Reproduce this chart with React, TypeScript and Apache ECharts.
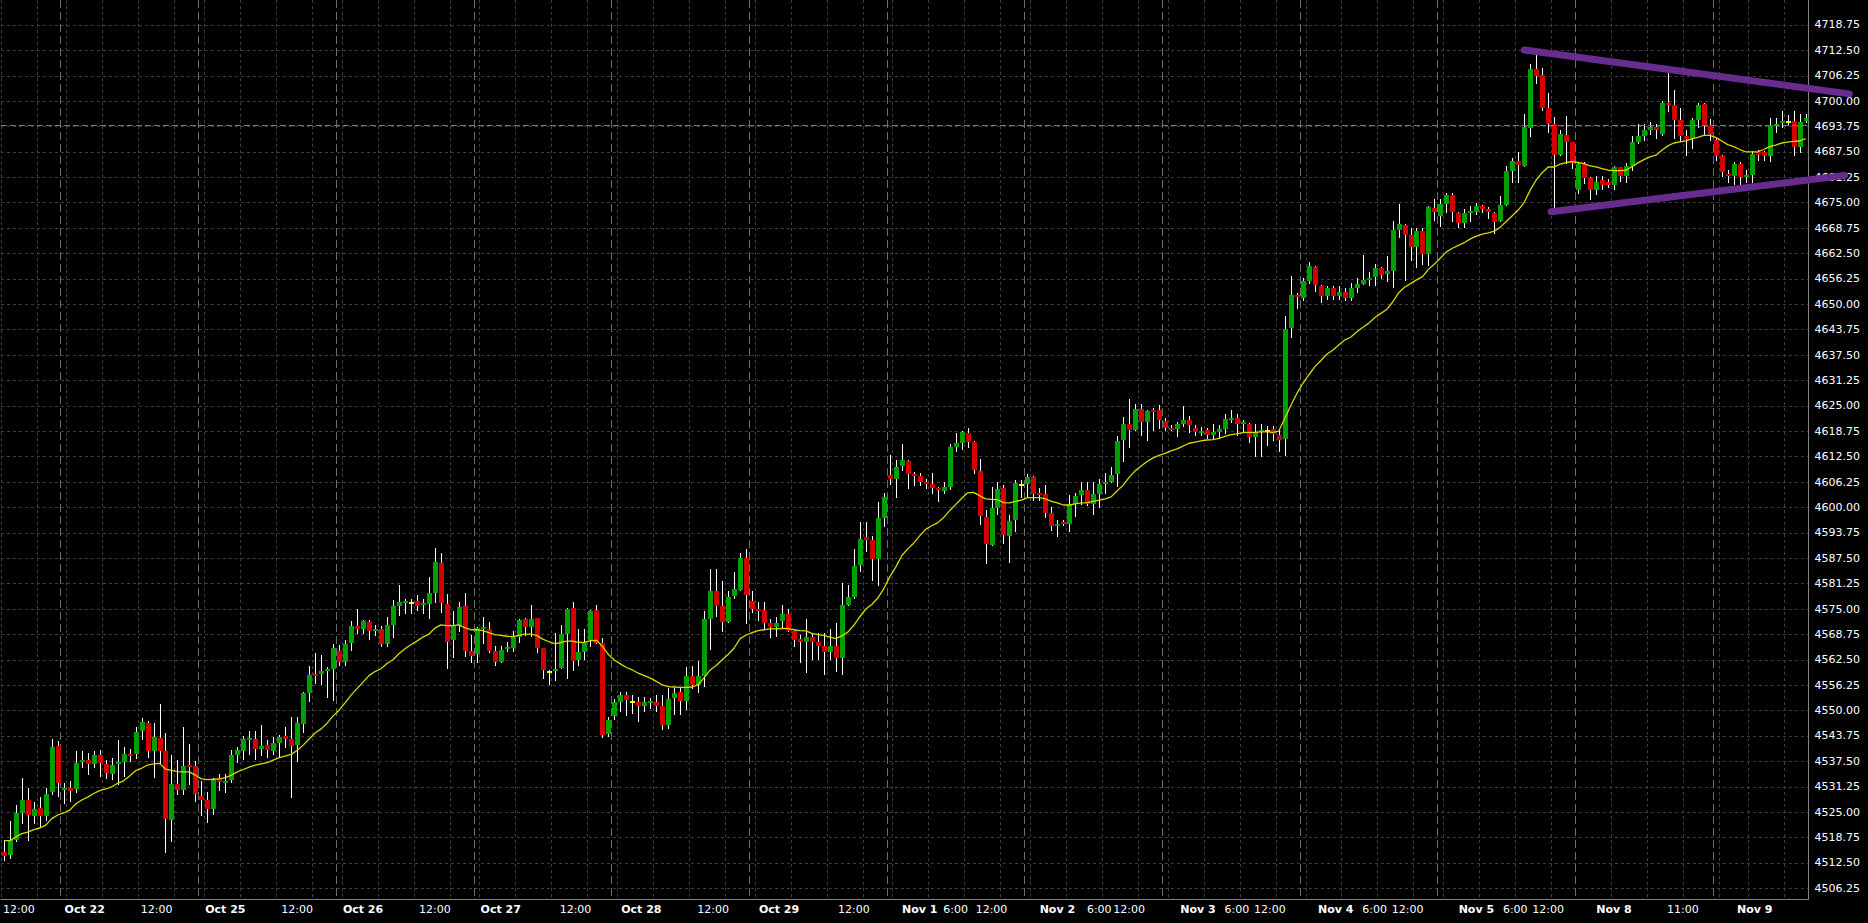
import React, { useEffect, useRef } from 'react';
import * as echarts from 'echarts';

// ---------- DATA (hourly bars) ----------
const opens = [
  4515.25, 4514.5, 4518.25, 4524.75, 4528.0, 4524.0, 4526.0, 4524.0, 4530.0, 4541.25,
  4530.5, 4531.0, 4530.75, 4537.25, 4537.75, 4536.75, 4539.0, 4536.75, 4534.5, 4536.75,
  4537.25, 4539.25, 4539.25, 4545.0, 4547.0, 4540.0, 4543.25, 4540.0, 4523.0, 4532.0,
  4530.5, 4536.5, 4536.25, 4529.0, 4528.0, 4525.75, 4533.5, 4532.5, 4533.0, 4539.0,
  4540.0, 4542.75, 4543.0, 4540.5, 4541.5, 4540.0, 4542.0, 4543.75, 4543.0, 4541.5,
  4546.75, 4554.25, 4559.0, 4559.0, 4559.75, 4560.25, 4564.75, 4562.0, 4566.75, 4570.75,
  4570.0, 4571.75, 4569.5, 4570.0, 4566.5, 4571.0, 4575.75, 4576.5, 4576.75, 4577.0,
  4576.0, 4576.25, 4579.0, 4586.25, 4576.25, 4567.25, 4571.0, 4575.75, 4564.75, 4564.0,
  4570.25, 4570.0, 4564.75, 4562.0, 4565.25, 4565.5, 4568.0, 4572.5, 4570.5, 4572.75,
  4565.5, 4559.75, 4559.75, 4560.5, 4568.75, 4575.25, 4562.5, 4564.5, 4567.25, 4574.75,
  4566.75, 4544.25, 4548.75, 4552.0, 4553.75, 4552.25, 4552.0, 4551.25, 4551.75, 4552.0,
  4551.25, 4546.5, 4553.0, 4554.5, 4552.25, 4558.5, 4556.25, 4558.5, 4572.5, 4579.5,
  4575.75, 4571.75, 4578.25, 4579.75, 4587.5, 4577.0, 4575.0, 4574.75, 4571.5, 4570.5,
  4572.0, 4573.75, 4569.5, 4567.5, 4567.0, 4568.0, 4567.0, 4566.0, 4564.5, 4566.0,
  4563.0, 4576.0, 4578.0, 4585.75, 4592.75, 4592.0, 4587.25, 4597.5, 4608.0, 4607.0,
  4610.25, 4611.5, 4608.25, 4607.75, 4606.25, 4605.75, 4604.75, 4604.0, 4605.0, 4615.0,
  4615.75, 4618.25, 4616.0, 4609.0, 4597.75, 4590.75, 4599.75, 4604.75, 4593.0, 4597.0,
  4605.75, 4605.75, 4607.5, 4603.5, 4603.25, 4598.75, 4595.5, 4596.5, 4596.0, 4600.75,
  4603.0, 4604.25, 4600.75, 4603.25, 4605.75, 4606.25, 4608.25, 4616.5, 4620.5, 4619.0,
  4624.25, 4621.0, 4624.0, 4624.0, 4621.25, 4619.5, 4619.25, 4620.5, 4621.5, 4619.5,
  4618.25, 4619.0, 4617.75, 4618.5, 4619.25, 4621.5, 4622.0, 4620.75, 4620.5, 4617.25,
  4618.5, 4619.0, 4619.25, 4617.75, 4616.75, 4644.25, 4652.25, 4651.5, 4655.75, 4659.25,
  4654.5, 4652.0, 4654.0, 4652.0, 4653.0, 4651.5, 4654.0, 4655.0, 4656.0, 4656.75,
  4659.0, 4657.5, 4658.25, 4668.25, 4669.5, 4667.0, 4664.0, 4668.0, 4662.5, 4673.75,
  4671.75, 4674.75, 4677.0, 4672.5, 4670.0, 4672.5, 4672.75, 4674.25, 4673.5, 4672.5,
  4670.5, 4674.5, 4682.75, 4685.25, 4684.0, 4693.5, 4708.0, 4706.5, 4698.25, 4694.5,
  4686.75, 4691.75, 4690.0, 4678.25, 4684.5, 4681.0, 4678.25, 4680.5, 4680.0, 4679.25,
  4683.75, 4681.5, 4684.0, 4690.0, 4691.5, 4693.0, 4693.75, 4692.0, 4699.5, 4699.0,
  4695.25, 4691.5, 4690.75, 4695.25, 4699.25, 4694.25, 4690.5, 4686.5, 4682.0, 4681.5,
  4684.5, 4681.25, 4681.75, 4687.5, 4687.5, 4686.5, 4694.0, 4694.75, 4695.0, 4695.0,
  4688.75, 4695.0,
];
const highs = [
  4518.25, 4522.75, 4526.75, 4533.5, 4531.0, 4527.5, 4528.75, 4531.0, 4543.0, 4542.5,
  4532.25, 4532.75, 4540.0, 4540.0, 4539.5, 4540.0, 4540.25, 4537.75, 4538.25, 4542.75,
  4541.0, 4540.5, 4546.0, 4548.25, 4547.5, 4547.0, 4551.5, 4544.5, 4539.0, 4537.75,
  4546.0, 4541.75, 4537.5, 4532.75, 4530.0, 4533.5, 4534.5, 4534.5, 4540.25, 4541.0,
  4543.75, 4545.0, 4545.0, 4546.5, 4542.75, 4543.5, 4544.0, 4546.0, 4548.5, 4548.5,
  4554.5, 4561.0, 4564.25, 4563.75, 4560.75, 4566.5, 4566.25, 4567.25, 4572.0, 4575.0,
  4572.25, 4572.25, 4571.0, 4570.75, 4573.0, 4577.25, 4581.0, 4577.5, 4577.5, 4578.5,
  4577.5, 4583.0, 4590.0, 4588.75, 4578.75, 4574.5, 4576.75, 4579.0, 4568.5, 4570.5,
  4573.0, 4571.75, 4566.0, 4566.0, 4567.0, 4569.5, 4572.5, 4572.75, 4576.0, 4572.75,
  4565.5, 4560.0, 4569.0, 4571.0, 4575.25, 4576.75, 4570.0, 4570.0, 4574.75, 4576.0,
  4567.75, 4548.5, 4552.75, 4554.5, 4554.5, 4553.75, 4553.25, 4553.25, 4553.0, 4553.75,
  4553.75, 4555.5, 4555.5, 4555.5, 4560.75, 4561.0, 4562.25, 4574.5, 4584.75, 4584.75,
  4582.0, 4579.5, 4584.0, 4588.75, 4589.75, 4579.5, 4576.75, 4576.75, 4572.5, 4573.0,
  4576.0, 4575.0, 4569.75, 4568.5, 4572.5, 4569.0, 4569.0, 4569.0, 4570.0, 4571.5,
  4581.5, 4581.0, 4589.75, 4596.5, 4596.5, 4593.0, 4601.25, 4603.5, 4613.0, 4611.75,
  4615.5, 4611.75, 4608.75, 4608.5, 4607.0, 4608.5, 4605.0, 4606.25, 4615.5, 4618.25,
  4618.75, 4619.5, 4616.25, 4612.0, 4599.25, 4605.0, 4606.25, 4605.5, 4598.25, 4606.75,
  4606.75, 4608.25, 4607.75, 4604.75, 4605.5, 4600.0, 4597.0, 4597.0, 4603.0, 4603.5,
  4606.25, 4606.25, 4606.25, 4607.0, 4608.5, 4610.0, 4617.5, 4622.25, 4626.75, 4625.5,
  4625.5, 4624.0, 4624.5, 4625.25, 4622.0, 4620.25, 4621.0, 4625.0, 4622.5, 4620.25,
  4619.75, 4619.5, 4620.5, 4620.25, 4623.0, 4624.0, 4623.0, 4621.5, 4620.75, 4620.5,
  4620.5, 4620.0, 4620.0, 4619.0, 4647.0, 4657.0, 4652.75, 4656.5, 4660.5, 4659.5,
  4654.75, 4654.5, 4654.5, 4654.5, 4654.0, 4655.25, 4656.5, 4662.25, 4658.0, 4660.0,
  4659.25, 4662.0, 4670.5, 4674.75, 4669.75, 4668.75, 4668.75, 4668.75, 4674.25, 4676.0,
  4676.0, 4677.5, 4677.5, 4672.75, 4673.5, 4674.25, 4675.0, 4674.5, 4674.0, 4672.75,
  4676.75, 4684.0, 4686.0, 4687.5, 4696.75, 4709.25, 4711.75, 4708.25, 4702.0, 4696.0,
  4693.0, 4696.25, 4690.0, 4685.0, 4685.0, 4681.25, 4681.5, 4681.5, 4680.75, 4684.0,
  4683.75, 4684.75, 4691.5, 4694.5, 4694.5, 4694.75, 4694.5, 4700.0, 4707.0, 4702.75,
  4698.25, 4693.0, 4695.75, 4699.5, 4699.5, 4695.5, 4691.0, 4686.75, 4683.0, 4685.0,
  4685.0, 4683.0, 4687.75, 4688.0, 4687.75, 4695.75, 4695.75, 4697.5, 4696.5, 4697.5,
  4696.75, 4696.75,
];
const lows = [
  4513.25, 4513.75, 4518.0, 4522.25, 4518.25, 4522.25, 4521.5, 4523.0, 4529.5, 4529.0,
  4527.25, 4527.75, 4530.0, 4536.0, 4534.5, 4536.0, 4534.0, 4533.5, 4533.25, 4532.0,
  4534.0, 4537.5, 4538.25, 4543.0, 4538.5, 4533.75, 4537.0, 4515.25, 4518.0, 4529.5,
  4529.5, 4532.0, 4527.75, 4524.25, 4522.5, 4524.5, 4530.5, 4530.0, 4532.5, 4537.25,
  4538.0, 4539.25, 4538.0, 4539.0, 4538.5, 4539.25, 4538.5, 4541.0, 4528.75, 4537.5,
  4544.75, 4552.25, 4556.75, 4556.5, 4553.25, 4552.5, 4561.25, 4561.25, 4565.0, 4569.0,
  4569.0, 4567.5, 4568.5, 4566.0, 4566.0, 4568.0, 4573.5, 4574.0, 4574.0, 4574.75,
  4574.0, 4572.75, 4576.75, 4574.25, 4560.5, 4563.25, 4569.5, 4563.5, 4562.0, 4562.0,
  4566.75, 4564.5, 4561.25, 4562.0, 4564.75, 4564.75, 4567.0, 4568.5, 4568.25, 4564.5,
  4558.0, 4556.5, 4557.5, 4560.5, 4558.0, 4560.0, 4561.25, 4562.75, 4566.0, 4566.75,
  4543.5, 4543.75, 4548.0, 4550.0, 4549.0, 4549.5, 4547.5, 4550.0, 4550.75, 4550.0,
  4545.5, 4545.75, 4549.25, 4549.25, 4550.5, 4555.5, 4554.5, 4556.0, 4565.25, 4573.25,
  4569.5, 4571.75, 4577.75, 4579.75, 4571.5, 4574.25, 4572.25, 4570.0, 4568.0, 4568.25,
  4570.5, 4569.5, 4566.0, 4562.0, 4559.5, 4562.75, 4562.75, 4559.0, 4562.75, 4559.75,
  4559.0, 4576.0, 4577.75, 4584.25, 4589.25, 4582.25, 4581.0, 4595.5, 4605.75, 4602.5,
  4609.25, 4604.75, 4605.5, 4605.5, 4604.75, 4603.5, 4601.5, 4603.5, 4604.5, 4614.0,
  4614.5, 4615.0, 4608.5, 4596.0, 4586.25, 4590.75, 4598.5, 4591.25, 4586.5, 4594.25,
  4602.5, 4602.5, 4601.75, 4601.75, 4597.75, 4594.5, 4593.0, 4595.75, 4594.25, 4598.0,
  4600.75, 4600.5, 4598.5, 4600.0, 4603.5, 4606.25, 4605.25, 4611.5, 4615.0, 4619.0,
  4617.75, 4616.5, 4619.0, 4619.5, 4619.0, 4619.0, 4617.5, 4620.0, 4618.5, 4617.75,
  4617.75, 4617.0, 4617.0, 4617.0, 4618.25, 4621.0, 4617.75, 4618.5, 4616.0, 4612.75,
  4612.75, 4615.25, 4616.5, 4614.0, 4613.0, 4642.0, 4649.0, 4651.0, 4655.25, 4653.25,
  4650.5, 4651.25, 4651.25, 4651.25, 4651.0, 4651.0, 4653.0, 4655.0, 4654.75, 4654.75,
  4656.5, 4655.75, 4654.25, 4666.5, 4656.0, 4661.0, 4659.25, 4660.0, 4659.75, 4670.75,
  4669.25, 4672.75, 4670.5, 4669.0, 4669.0, 4670.5, 4672.25, 4672.75, 4671.25, 4667.5,
  4670.5, 4674.5, 4680.0, 4680.0, 4684.0, 4691.5, 4704.5, 4697.75, 4692.5, 4674.0,
  4686.75, 4684.75, 4683.5, 4677.5, 4679.75, 4676.0, 4677.25, 4678.5, 4678.75, 4678.5,
  4680.25, 4680.0, 4683.0, 4689.75, 4690.5, 4692.0, 4691.0, 4691.75, 4697.5, 4691.0,
  4690.5, 4686.75, 4688.5, 4693.75, 4692.0, 4690.5, 4685.5, 4681.5, 4680.0, 4679.5,
  4679.5, 4680.0, 4680.0, 4685.5, 4685.5, 4685.25, 4692.5, 4693.75, 4694.25, 4686.75,
  4687.5, 4694.75,
];
const closes = [
  4514.25, 4518.25, 4524.75, 4528.0, 4524.25, 4525.75, 4524.0, 4529.5, 4541.0, 4532.25,
  4531.0, 4530.25, 4537.0, 4537.75, 4536.75, 4539.0, 4537.0, 4534.75, 4536.5, 4537.25,
  4539.25, 4538.75, 4544.75, 4547.25, 4540.0, 4543.5, 4540.0, 4523.25, 4532.0, 4530.5,
  4536.25, 4536.0, 4529.5, 4528.0, 4525.75, 4533.25, 4532.5, 4532.75, 4539.0, 4540.25,
  4543.0, 4543.25, 4540.5, 4541.25, 4540.25, 4542.0, 4543.5, 4543.0, 4541.25, 4547.0,
  4554.25, 4558.75, 4558.5, 4559.75, 4560.25, 4565.5, 4562.0, 4566.5, 4570.75, 4570.0,
  4572.0, 4569.5, 4570.0, 4566.5, 4571.0, 4575.75, 4576.75, 4577.0, 4576.75, 4575.75,
  4576.5, 4579.0, 4586.5, 4576.5, 4567.0, 4571.0, 4575.5, 4564.75, 4563.5, 4570.25,
  4570.5, 4564.75, 4562.0, 4565.0, 4565.75, 4568.0, 4572.25, 4570.5, 4572.5, 4565.5,
  4560.0, 4559.75, 4560.25, 4568.75, 4575.0, 4562.25, 4564.5, 4566.75, 4574.5, 4566.75,
  4544.0, 4547.75, 4552.0, 4553.75, 4552.5, 4552.25, 4551.25, 4552.0, 4552.25, 4551.25,
  4546.5, 4552.75, 4554.25, 4552.25, 4558.5, 4556.25, 4558.5, 4572.5, 4579.5, 4575.75,
  4571.75, 4578.0, 4580.0, 4587.5, 4578.5, 4575.0, 4574.75, 4571.5, 4570.5, 4571.5,
  4573.75, 4569.5, 4567.25, 4567.0, 4568.0, 4567.0, 4566.0, 4564.5, 4566.0, 4563.0,
  4576.0, 4578.0, 4585.5, 4592.25, 4592.0, 4587.25, 4597.5, 4602.5, 4607.0, 4610.0,
  4611.75, 4608.25, 4607.75, 4606.25, 4605.75, 4604.75, 4604.25, 4605.0, 4615.0, 4615.75,
  4618.5, 4616.0, 4609.25, 4598.0, 4591.0, 4599.75, 4604.5, 4593.25, 4596.75, 4606.0,
  4605.75, 4607.5, 4603.25, 4603.0, 4598.75, 4595.5, 4596.0, 4596.0, 4600.75, 4602.75,
  4604.25, 4600.75, 4603.25, 4605.75, 4606.25, 4608.0, 4616.25, 4620.5, 4619.0, 4624.25,
  4621.0, 4623.75, 4623.5, 4621.5, 4619.5, 4619.0, 4620.5, 4621.5, 4620.25, 4618.5,
  4618.75, 4617.75, 4618.5, 4619.25, 4621.75, 4622.0, 4620.5, 4621.0, 4617.25, 4618.5,
  4619.0, 4619.0, 4618.0, 4616.5, 4644.0, 4652.25, 4651.75, 4655.75, 4659.5, 4654.75,
  4652.0, 4654.0, 4652.0, 4653.0, 4651.5, 4654.0, 4655.0, 4656.0, 4656.5, 4659.0,
  4657.25, 4658.25, 4668.25, 4669.75, 4667.0, 4664.0, 4668.0, 4662.5, 4674.0, 4672.75,
  4674.75, 4677.0, 4672.75, 4670.0, 4672.5, 4673.0, 4674.25, 4673.5, 4672.75, 4670.25,
  4674.5, 4682.75, 4685.25, 4684.25, 4693.75, 4708.0, 4706.25, 4698.25, 4694.5, 4686.75,
  4692.0, 4690.0, 4684.75, 4684.5, 4681.0, 4678.25, 4680.0, 4679.25, 4679.25, 4683.75,
  4681.5, 4684.0, 4690.0, 4691.5, 4693.0, 4693.75, 4693.0, 4699.5, 4699.0, 4695.25,
  4691.5, 4690.75, 4695.25, 4699.0, 4694.25, 4692.0, 4686.5, 4682.5, 4681.5, 4684.5,
  4681.25, 4681.75, 4687.0, 4686.75, 4686.5, 4694.25, 4694.5, 4695.0, 4695.0, 4688.75,
  4694.75, 4695.75,
];
// yellow moving-average line, read bar by bar
const maValues = [
  4518.0, 4518.0, 4518.9, 4519.7, 4520.1, 4520.7, 4521.1, 4521.8, 4523.4, 4524.3,
  4524.8, 4525.5, 4527.0, 4528.0, 4528.7, 4529.6, 4530.3, 4530.7, 4531.2, 4532.1,
  4532.7, 4533.9, 4535.2, 4535.8, 4536.6, 4536.9, 4537.0, 4535.6, 4535.3, 4535.0,
  4534.9, 4534.9, 4534.1, 4533.2, 4533.0, 4533.1, 4533.2, 4533.5, 4534.1, 4534.9,
  4535.5, 4536.1, 4536.6, 4536.9, 4537.2, 4537.8, 4538.4, 4538.8, 4539.2, 4540.2,
  4541.5, 4543.0, 4544.5, 4545.5, 4546.9, 4548.7, 4550.1, 4551.9, 4553.8, 4555.4,
  4557.0, 4558.6, 4559.6, 4560.3, 4561.6, 4562.5, 4564.0, 4565.2, 4566.2, 4567.1,
  4568.1, 4568.8, 4570.3, 4571.1, 4570.9, 4570.9, 4571.1, 4570.4, 4569.9, 4569.9,
  4569.7, 4569.2, 4568.7, 4568.5, 4568.3, 4568.2, 4568.5, 4568.8, 4568.8, 4568.5,
  4567.6, 4567.0, 4566.5, 4566.7, 4567.1, 4567.1, 4566.8, 4566.8, 4567.2, 4567.3,
  4565.8, 4563.8, 4562.4, 4561.5, 4560.6, 4560.0, 4559.2, 4558.6, 4558.0, 4557.2,
  4556.3, 4555.9, 4555.8, 4555.7, 4555.7, 4555.8, 4556.4, 4558.1, 4560.0, 4561.1,
  4562.5, 4563.8, 4565.4, 4567.7, 4568.6, 4569.2, 4569.7, 4569.9, 4570.1, 4570.1,
  4570.2, 4570.2, 4569.9, 4569.7, 4569.6, 4569.0, 4568.7, 4568.5, 4568.1, 4567.7,
  4568.4, 4569.3, 4571.0, 4573.1, 4575.0, 4576.1, 4577.7, 4580.0, 4582.9, 4585.3,
  4588.1, 4589.8, 4591.2, 4593.0, 4594.6, 4595.5, 4596.2, 4597.5, 4599.2, 4600.7,
  4602.2, 4603.6, 4603.7, 4602.9, 4602.1, 4602.0, 4601.9, 4601.2, 4601.1, 4601.5,
  4601.8, 4602.4, 4602.4, 4602.4, 4602.1, 4601.5, 4601.1, 4600.6, 4600.6, 4600.9,
  4601.1, 4601.2, 4601.5, 4601.8, 4602.1, 4602.6, 4604.1, 4605.5, 4607.4, 4609.0,
  4610.2, 4611.3, 4612.2, 4612.8, 4613.3, 4613.9, 4614.4, 4615.1, 4615.8, 4616.1,
  4616.4, 4616.6, 4616.7, 4617.0, 4617.5, 4617.9, 4618.1, 4618.4, 4618.5, 4618.5,
  4618.6, 4618.6, 4618.5, 4618.8, 4621.9, 4625.1, 4628.0, 4630.5, 4632.6, 4634.6,
  4636.1, 4637.7, 4638.7, 4640.0, 4641.2, 4641.9, 4643.2, 4644.3, 4645.3, 4646.7,
  4647.7, 4648.7, 4650.5, 4652.8, 4654.2, 4655.1, 4656.0, 4656.8, 4658.6, 4659.9,
  4661.4, 4662.9, 4663.8, 4664.5, 4665.2, 4666.1, 4666.8, 4667.3, 4667.6, 4668.0,
  4669.0, 4670.4, 4671.8, 4673.2, 4675.1, 4678.1, 4680.6, 4682.4, 4683.8, 4683.8,
  4684.5, 4684.9, 4685.1, 4684.9, 4684.6, 4684.1, 4683.8, 4683.4, 4683.0, 4682.9,
  4682.9, 4683.0, 4683.9, 4684.8, 4685.6, 4686.3, 4686.7, 4687.9, 4689.0, 4689.7,
  4690.0, 4690.2, 4690.7, 4691.1, 4691.6, 4691.6, 4691.1, 4690.2, 4689.3, 4688.8,
  4688.1, 4687.5, 4687.5, 4687.5, 4688.1, 4688.8, 4689.2, 4689.7, 4689.9, 4690.1,
  4690.2, 4690.8,
];

// trading days and the index of their first bar
const dayNames = ['Oct 21', 'Oct 22', 'Oct 25', 'Oct 26', 'Oct 27', 'Oct 28', 'Oct 29', 'Nov 1', 'Nov 2', 'Nov 3', 'Nov 4', 'Nov 5', 'Nov 8', 'Nov 9'];
const dayStartBars = [0, 10, 33, 56, 79, 102, 125, 148, 171, 194, 217, 240, 263, 286];
// session separators (bar index where a new day begins)
const daySeparatorBars = [10, 33, 56, 79, 102, 125, 148, 171, 194, 217, 240, 263, 286];
// fainter vertical grid lines (bar index they precede)
const gridLineBars = [
  0, 6, 11, 17, 23, 29, 34, 40, 46, 52, 57, 63, 69, 75, 80, 86, 92, 98, 103, 109, 115, 121,
  126, 132, 138, 144, 149, 155, 161, 167, 172, 178, 184, 190, 195, 201, 207, 213,
  218, 224, 230, 236, 241, 247, 253, 259, 269, 275, 281, 287, 292, 298,
];
// x-axis tick labels: [position in bars, text]
const xTickLabels: [number, string][] = [
  [2.52, '12:00'], [13.51, 'Oct 22'], [25.74, '12:00'], [36.79, 'Oct 25'], [48.95, '12:00'],
  [60.0, 'Oct 26'], [72.2, '12:00'], [83.2, 'Oct 27'], [95.3, '12:00'], [106.6, 'Oct 28'],
  [118.5, '12:00'], [129.7, 'Oct 29'], [141.8, '12:00'], [152.9, 'Nov 1'], [159.0, '6:00'],
  [165.2, '12:00'], [176.0, 'Nov 2'], [183.0, '6:00'], [188.2, '12:00'], [199.3, 'Nov 3'],
  [206.0, '6:00'], [211.5, '12:00'], [222.6, 'Nov 4'], [229.2, '6:00'], [234.6, '12:00'],
  [245.9, 'Nov 5'], [252.4, '6:00'], [257.9, '12:00'], [269.1, 'Nov 8'], [280.3, '11:00'],
  [292.3, 'Nov 9'],
];
// y ticks
const yTickStart = 4506.25;
const yTickStep = 6.25;
const yTickCount = 35;
const yTicks: number[] = [];
for (let i = 0; i < yTickCount; i++) yTicks.push(yTickStart + i * yTickStep);
const Y_MIN = 4503.55;
const Y_MAX = 4724.9;
// current price level
const priceLevel = 4694.0;
// purple triangle trend lines: [[barPos, price], [barPos, price]]
const trendUpper: [number, number][] = [[254.0, 4712.6], [308.3, 4701.8]];
const trendLower: [number, number][] = [[258.5, 4672.8], [307.5, 4681.7]];

// ---------- STYLE ----------
const FONT = '"DejaVu Sans", Verdana, sans-serif';
const UP = '#00a000';
const DOWN = '#d40000';
const DOJI = '#ffff00';
const GRID = '#3e3e3e';
const SEP = '#6c6c6c';
const BORDER = '#858585';

export default function App() {
  const ref = useRef<HTMLDivElement>(null);
  useEffect(() => {
    document.body.style.margin = '0';
    document.body.style.background = '#000';
    const chart = echarts.init(ref.current as HTMLDivElement, null, { renderer: 'svg' });

    const categories = opens.map((_, i) => {
      let d = 0;
      for (let j = 0; j < dayStartBars.length; j++) if (i >= dayStartBars[j]) d = j;
      return `${dayNames[d]} #${i - dayStartBars[d] + 1}`;
    });
    const candles = opens.map((o, i) => [i, o, closes[i], lows[i], highs[i]]);
    const gridSet = new Set(gridLineBars);
    const sepSet = new Set(daySeparatorBars);
    const labelByIndex = new Map<number, { text: string; shift: boolean; bold: boolean }>();
    xTickLabels.forEach(([pos, text]) => {
      const base = Math.floor(pos);
      const f = pos - base;
      let idx = base;
      let shift = false;
      if (f >= 0.75) idx = base + 1;
      else if (f >= 0.25) shift = true;
      labelByIndex.set(idx, { text, shift, bold: /^[A-Z]/.test(text) });
    });

    const labelBase = { fontFamily: FONT, fontSize: 11, color: '#ffffff' };

    const option: any = {
      animation: false,
      backgroundColor: '#000000',
      grid: { left: 0.45, right: 59.45, top: 0, bottom: 23.7 },
      xAxis: [
        {
          type: 'category',
          data: categories,
          boundaryGap: true,
          axisLine: { show: true, onZero: false, lineStyle: { color: BORDER, width: 1 } },
          axisTick: { show: false },
          axisLabel: {
            interval: (i: number) => labelByIndex.has(i),
            formatter: (_v: string, i: number) => {
              const l = labelByIndex.get(i);
              if (!l) return '';
              const key = (l.bold ? 'd' : 't') + (l.shift ? 's' : '');
              return `{${key}|${l.text}}`;
            },
            margin: 5,
            rich: {
              d: { ...labelBase, fontWeight: 'bold' },
              ds: { ...labelBase, fontWeight: 'bold', padding: [0, 0, 0, 6] },
              t: { ...labelBase },
              ts: { ...labelBase, padding: [0, 0, 0, 6] },
            },
          },
          splitLine: {
            show: true,
            interval: (i: number) => gridSet.has(i),
            lineStyle: { color: GRID, width: 1, type: [3, 3] },
          },
        },
        {
          type: 'category',
          data: categories,
          boundaryGap: true,
          position: 'bottom',
          axisLine: { show: false },
          axisTick: { show: false },
          axisLabel: { show: false },
          splitLine: {
            show: true,
            interval: (i: number) => sepSet.has(i),
            lineStyle: { color: SEP, width: 1, type: [8, 4] },
          },
        },
      ],
      yAxis: {
        type: 'value',
        position: 'right',
        min: Y_MIN,
        max: Y_MAX,
        axisLine: { show: true, lineStyle: { color: BORDER, width: 1 } },
        axisTick: { show: false, customValues: yTicks },
        axisLabel: {
          customValues: yTicks,
          color: '#ffffff',
          fontFamily: FONT,
          fontSize: 11,
          margin: 6,
          formatter: (v: number) => v.toFixed(2),
        },
        splitLine: { show: true, lineStyle: { color: GRID, width: 1, type: [3, 3] } },
      },
      series: [
        {
          type: 'custom',
          name: 'ES',
          xAxisIndex: 0,
          yAxisIndex: 0,
          data: candles,
          encode: { x: 0, y: [1, 2, 3, 4] },
          z: 2,
          renderItem: (_params: any, api: any) => {
            const i = api.value(0);
            const o = api.value(1);
            const c = api.value(2);
            const l = api.value(3);
            const h = api.value(4);
            const pO = api.coord([i, o]);
            const pC = api.coord([i, c]);
            const pL = api.coord([i, l]);
            const pH = api.coord([i, h]);
            const cx = Math.round(pO[0]);
            const top = Math.round(Math.min(pO[1], pC[1]));
            let bot = Math.round(Math.max(pO[1], pC[1]));
            if (bot - top < 2) bot = top + 2;
            const fill = c > o ? UP : c < o ? DOWN : DOJI;
            return {
              type: 'group',
              children: [
                {
                  type: 'line',
                  shape: { x1: cx + 0.5, y1: Math.round(pH[1]), x2: cx + 0.5, y2: Math.round(pL[1]) + 1 },
                  style: { stroke: '#ffffff', lineWidth: 1 },
                },
                {
                  type: 'rect',
                  shape: { x: cx - 2, y: top, width: 5, height: bot - top },
                  style: { fill },
                },
              ],
            };
          },
        },
        {
          type: 'line',
          name: 'MA',
          xAxisIndex: 0,
          yAxisIndex: 0,
          data: maValues,
          symbol: 'none',
          smooth: false,
          z: 3,
          lineStyle: { color: '#d8d800', width: 1.3 },
          markLine: {
            silent: true,
            symbol: ['none', 'none'],
            label: { show: false },
            lineStyle: { color: '#7a7a7a', width: 1, type: [6, 3] },
            data: [{ yAxis: priceLevel }],
          },
        },
      ],
    };
    chart.setOption(option);

    const toPx = (pos: number, price: number) => {
      const a = chart.convertToPixel({ xAxisIndex: 0, yAxisIndex: 0 }, [0, price]) as number[];
      const b = chart.convertToPixel({ xAxisIndex: 0, yAxisIndex: 0 }, [1, price]) as number[];
      return [a[0] + (b[0] - a[0]) * pos, a[1]];
    };
    const lines = [trendUpper, trendLower].map((seg) => {
      const p1 = toPx(seg[0][0], seg[0][1]);
      const p2 = toPx(seg[1][0], seg[1][1]);
      return {
        type: 'line',
        silent: true,
        z: 100,
        shape: { x1: p1[0], y1: p1[1], x2: p2[0], y2: p2[1] },
        style: { stroke: '#682c8f', lineWidth: 7, lineCap: 'round' },
      };
    });
    chart.setOption({ graphic: lines });

    return () => chart.dispose();
  }, []);
  return <div ref={ref} style={{ width: 1868, height: 923 }} />;
}
